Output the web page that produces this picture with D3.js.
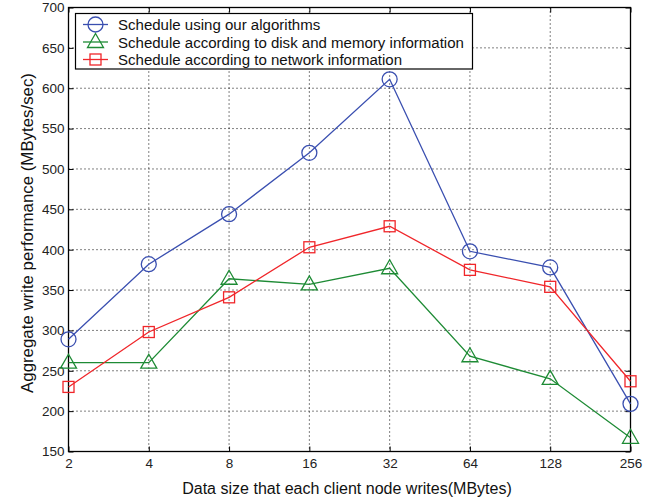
<!DOCTYPE html>
<html><head><meta charset="utf-8">
<script src="https://cdn.jsdelivr.net/npm/d3@7"></script>
<style>body{margin:0;background:#fff}svg{display:block}text{font-family:"Liberation Sans",Arial,sans-serif}</style>
</head><body><svg id="c" width="651" height="499"></svg>
<script>
const categories = ["2","4","8","16","32","64","128","256"];
const yTicks = [150,200,250,300,350,400,450,500,550,600,650,700];
const seriesNames = ["Schedule using our algorithms","Schedule according to disk and memory information","Schedule according to network information"];
const algoValues = [289,382,444,520,611,398,378,209];
const diskMemValues = [260,260,364,357,377,268,240,167];
const networkValues = [230,298,341,403,429,375,354,237];
const colors = ["#3a4fb0","#1e8b35","#f0262a"];
const markers = ["circle","triangle","square"];

const series = [
  {name:seriesNames[0], values:algoValues, color:colors[0], marker:markers[0]},
  {name:seriesNames[1], values:diskMemValues, color:colors[1], marker:markers[1]},
  {name:seriesNames[2], values:networkValues, color:colors[2], marker:markers[2]}
];

const L=68.5, R=630.5, T=7.5, B=451.5;
const svg = d3.select("#c");
const x = d3.scalePoint().domain(categories).range([L,R]);
const y = d3.scaleLinear().domain([150,700]).range([B,T]);

function fit(sel, target){
  const n = sel.node();
  const fs = parseFloat(sel.attr("font-size"));
  const w = n.getComputedTextLength();
  if (w > 0) sel.attr("font-size", (fs*target/w).toFixed(2));
}

// grid
const g = svg.append("g");
g.selectAll(".gx").data(categories.slice(1,-1)).enter().append("line")
  .attr("x1",d=>x(d)).attr("x2",d=>x(d)).attr("y1",T).attr("y2",B)
  .attr("stroke","#000").attr("stroke-width",1).attr("stroke-dasharray","1,3");
g.selectAll(".gy").data(yTicks.slice(1,-1)).enter().append("line")
  .attr("x1",L).attr("x2",R).attr("y1",d=>y(d)).attr("y2",d=>y(d))
  .attr("stroke","#000").attr("stroke-width",1).attr("stroke-dasharray","1,3");

// axes
const ax = svg.append("g").attr("transform",`translate(0,${B})`)
  .call(d3.axisBottom(x).tickSizeInner(-5).tickSizeOuter(0).tickPadding(7));
const axT = svg.append("g").attr("transform",`translate(0,${T})`)
  .call(d3.axisTop(x).tickSizeInner(-5).tickSizeOuter(0).tickFormat(""));
const ay = svg.append("g").attr("transform",`translate(${L},0)`)
  .call(d3.axisLeft(y).tickValues(yTicks).tickSizeInner(-5).tickSizeOuter(0).tickPadding(4));
const ayR = svg.append("g").attr("transform",`translate(${R},0)`)
  .call(d3.axisRight(y).tickValues(yTicks).tickSizeInner(-5).tickSizeOuter(0).tickFormat(""));
[ax,axT,ay,ayR].forEach(a=>{a.select(".domain").remove();a.selectAll("line").attr("stroke","#000");});
svg.selectAll(".tick text").attr("font-size",13.5).attr("fill","#222").attr("font-family",'"Liberation Sans",Arial,sans-serif');
svg.append("rect").attr("x",L).attr("y",T).attr("width",R-L).attr("height",B-T)
  .attr("fill","none").attr("stroke","#000").attr("stroke-width",1.3);

function drawMarker(sel, m, color){
  if(m==="circle") sel.append("circle").attr("r",7.5).attr("fill","none").attr("stroke",color).attr("stroke-width",1.3);
  else if(m==="square") sel.append("rect").attr("x",-5.5).attr("y",-5.5).attr("width",11).attr("height",11).attr("fill","none").attr("stroke",color).attr("stroke-width",1.3);
  else sel.append("path").attr("d","M0,-8.5L8,5.5L-8,5.5Z").attr("fill","none").attr("stroke",color).attr("stroke-width",1.3);
}

const line = d3.line().x((d,i)=>x(categories[i])).y(d=>y(d));
series.forEach(s=>{
  svg.append("path").datum(s.values).attr("d",line).attr("fill","none").attr("stroke",s.color).attr("stroke-width",1.3);
  s.values.forEach((v,i)=>{
    const mg = svg.append("g").attr("transform",`translate(${x(categories[i])},${y(v)})`);
    drawMarker(mg,s.marker,s.color);
  });
});

// legend
const lg = svg.append("g");
lg.append("rect").attr("x",75.5).attr("y",13.5).attr("width",397).attr("height",55.5).attr("fill","#fff").attr("stroke","#000").attr("stroke-width",1.2);
const legTexts = [];
series.forEach((s,i)=>{
  const yy = 24.5 + i*17.5;
  lg.append("line").attr("x1",83).attr("x2",108).attr("y1",yy).attr("y2",yy).attr("stroke",s.color).attr("stroke-width",1.3);
  const mg = lg.append("g").attr("transform",`translate(95.5,${yy})`);
  drawMarker(mg,s.marker,s.color);
  legTexts.push(lg.append("text").attr("x",118).attr("y",yy+5.5).attr("font-size",14.5).attr("fill","#111").text(s.name));
});
fit(legTexts[1], 346);
const lfs = legTexts[1].attr("font-size");
legTexts.forEach(t=>t.attr("font-size",lfs));

// axis labels
const xl = svg.append("text").attr("x",347).attr("y",494).attr("text-anchor","middle").attr("font-size",15.5).attr("fill","#111")
  .text("Data size that each client node writes(MBytes)");
fit(xl, 330);
const yl = svg.append("text").attr("transform",`translate(33,233) rotate(-90)`).attr("text-anchor","middle").attr("font-size",15.5).attr("fill","#111")
  .text("Aggregate write performance (MBytes/sec)");
fit(yl, 320);
</script></body></html>
